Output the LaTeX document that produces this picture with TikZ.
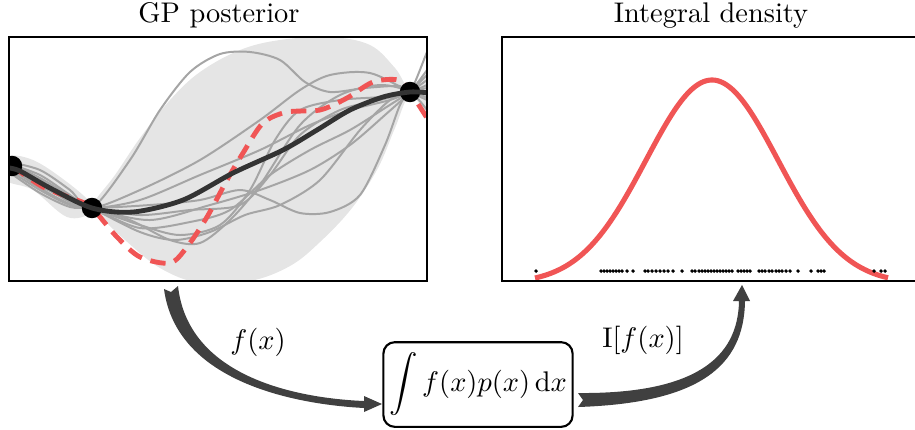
\documentclass[tikz,border=0pt]{standalone}
\usepackage{amsmath}
\definecolor{gpred}{RGB}{240,85,85}
\definecolor{bandc}{RGB}{229,229,229}
\definecolor{samplec}{RGB}{165,165,165}
\definecolor{meanc}{RGB}{51,51,51}
\definecolor{arrowc}{RGB}{64,64,64}
\tikzset{
  axbox/.style={line width=0.8pt},
  sample/.style={samplec, line width=0.7pt},
  meanline/.style={meanc, line width=1.7pt},
  truth/.style={gpred, line width=1.7pt, dash pattern=on 5.4pt off 3.2pt},
  obs/.style={fill=black},
  dens/.style={gpred, line width=1.8pt},
  mcdot/.style={fill=black},
  fatarrow/.style={fill=arrowc},
  formulabox/.style={draw, line width=0.75pt, rounded corners=4pt, minimum width=66.5pt, minimum height=29.8pt, inner sep=2pt},
  title/.style={anchor=base}
}
\begin{document}
\begin{tikzpicture}[x=0.352pt, y=-0.352pt]
\useasboundingbox (0,0) rectangle (915,429);
% ---------- GP posterior panel ----------
\begin{scope}
\clip (9,37) rectangle (427,281);
% credible band
\fill[bandc] plot[smooth cycle, tension=0.6] coordinates {(6,157) (33,160) (67,182) (92,204) (92,213) (67,217) (33,190) (6,180)};
\fill[bandc] plot[smooth cycle, tension=0.6] coordinates {(92,206) (115,175) (140,138) (170,100) (200,72) (240,50) (280,40) (330,37) (370,45) (395,68) (410,88) (430,72) (430,114) (410,96) (395,128) (378,168) (352,208) (320,242) (290,266) (250,281) (200,283) (160,268) (125,240) (100,216)};
% samples
\draw[sample] plot[smooth] coordinates {(9,162) (40,170) (70,190) (92,208) (130,160) (160,110) (190,72) (220,54) (250,52) (280,60) (305,82) (330,92) (365,88) (400,86) (410,92) (427,52) (440,20)};
\draw[sample] plot[smooth] coordinates {(9,170) (40,190) (70,205) (92,208) (150,205) (200,200) (240,190) (270,200) (300,213) (330,212) (360,195) (385,145) (400,105) (410,92) (427,75)};
\draw[sample] plot[smooth] coordinates {(9,166) (40,184) (70,202) (92,208) (130,220) (170,240) (200,243) (230,220) (260,185) (300,125) (340,95) (380,85) (410,92) (427,110)};
\draw[sample] plot[smooth] coordinates {(9,164) (40,175) (70,195) (92,208) (140,190) (200,160) (260,120) (300,90) (330,75) (370,73) (410,92) (427,100)};
\draw[sample] plot[smooth] coordinates {(9,168) (40,186) (70,200) (92,208) (140,200) (200,175) (260,150) (310,125) (350,110) (390,100) (410,92) (427,88)};
\draw[sample] plot[smooth] coordinates {(9,172) (40,193) (70,207) (92,208) (140,215) (190,210) (240,205) (270,175) (300,135) (340,110) (380,100) (410,92) (427,85)};
\draw[sample] plot[smooth] coordinates {(9,165) (40,180) (70,199) (92,208) (140,225) (180,235) (220,225) (250,190) (275,140) (300,110) (340,100) (380,97) (410,92) (427,98)};
\draw[sample] plot[smooth] coordinates {(9,167) (40,188) (70,204) (92,208) (140,228) (190,222) (230,210) (270,175) (310,150) (350,130) (385,108) (410,92) (427,80)};
\draw[sample] plot[smooth] coordinates {(9,163) (40,178) (70,196) (92,208) (140,232) (175,240) (210,232) (245,215) (280,205) (320,180) (360,130) (390,100) (410,92) (427,95)};
\draw[sample] plot[smooth] coordinates {(9,169) (40,182) (70,198) (92,208) (150,220) (210,205) (260,190) (310,170) (350,145) (385,115) (410,92) (427,70)};
% ground truth
\draw[truth] plot[smooth] coordinates {(12,166) (43,187) (77,200) (92,208) (117,237) (140,257) (170,263) (187,247) (207,217) (227,180) (243,153) (263,123) (287,112) (320,110) (347,98) (373,82) (398,80) (410,92) (427,118)};
% observations
\fill[obs] (12,166) circle[radius=3.6pt];
\fill[obs] (92,208) circle[radius=3.6pt];
\fill[obs] (410,92) circle[radius=3.6pt];
% mean
\draw[meanline] plot[smooth] coordinates {(9,168) (20,171) (50,188) (92,208) (133,212) (183,200) (233,173) (283,150) (317,130) (350,110) (383,97) (410,92) (430,93)};
\end{scope}
\draw[axbox] (9,37) rectangle (427,281);
% ---------- Integral density panel ----------
\draw[dens] plot[domain=535:888, samples=150, smooth] (\x, {278-198*(exp(-0.5*((\x-712)/66)^2)-0.0274)/(1-0.0274)});
\foreach \d in {536,601,604,607,610,613,616,619,622,627,633,645,648,652,656,660,664,668,673,682,692,695,699,702,705,708,711,714,717,720,723,726,729,732,738,741,744,747,750,759,762,765,769,772,776,779,782,786,790,798,811,818,821,824,874,881,885}
  \fill[mcdot] (\d,271) circle[radius=0.7pt];
\draw[axbox] (916,37) -- (502,37) -- (502,281) -- (916,281);
% ---------- titles ----------
\node[title] (t1) at (219,22) {GP posterior};
\node[title] (t2) at (711,22) {Integral density};
% ---------- formula and arrows ----------
\node[formulabox] (integral) at (478,384.5) {$\displaystyle\int f(x)p(x)\,\mathrm{d}x$};
\fill[fatarrow] (164,289) .. controls (176,380) and (290,404) .. (364,408) -- (364,412) -- (382,404) -- (364,396) -- (364,401) .. controls (294,398) and (188,376) .. (178,286) -- (171,292) -- cycle;
\fill[fatarrow] (578,393) -- (583,400) -- (578,407) .. controls (700,403) and (744,366) .. (745,301) -- (750,301) -- (742,285) -- (733,301) -- (739,301) .. controls (738,358) and (695,394) .. (578,393) -- cycle;
\node (lf) at (258,342) {$f(x)$};
\node (lI) at (643,340) {$\mathrm{I}[f(x)]$};
\end{tikzpicture}
\end{document}
